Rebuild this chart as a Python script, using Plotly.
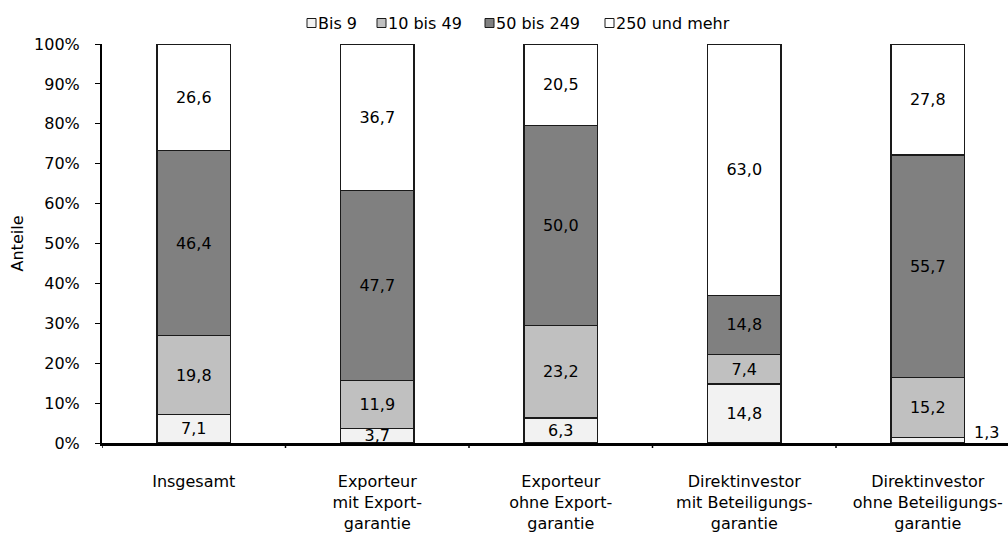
import plotly.graph_objects as go

# Unternehmensgröße nach Beschäftigten, Anteile in Prozent
categories = [
    "Insgesamt",
    "Exporteur<br>mit Export-<br>garantie",
    "Exporteur<br>ohne Export-<br>garantie",
    "Direktinvestor<br>mit Beteiligungs-<br>garantie",
    "Direktinvestor<br>ohne Beteiligungs-<br>garantie",
]
series_names = ["Bis 9", "10 bis 49", "50 bis 249", "250 und mehr"]
bis_9 = [7.1, 3.7, 6.3, 14.8, 1.3]
bis_49 = [19.8, 11.9, 23.2, 7.4, 15.2]
bis_249 = [46.4, 47.7, 50.0, 14.8, 55.7]
ab_250 = [26.6, 36.7, 20.5, 63.0, 27.8]
y_ticks = [0, 10, 20, 30, 40, 50, 60, 70, 80, 90, 100]
y_tick_labels = [f"{v}%" for v in y_ticks]

series_values = [bis_9, bis_49, bis_249, ab_250]
fill_colors = ["#f2f2f2", "#c0c0c0", "#808080", "#ffffff"]

FONT = "DejaVu Sans"
FS = 16
W, H = 1008, 533
ML, MR, MT, MB = 102, 0, 44, 90
PW, PH = W - ML - MR, H - MT - MB

# segments too thin for an inside label get their value written beside the bar
MIN_INSIDE = 2.0

fig = go.Figure()
x_idx = list(range(len(categories)))
for name, vals, color in zip(series_names, series_values, fill_colors):
    texts = [f"{v:.1f}".replace(".", ",") if v >= MIN_INSIDE else "" for v in vals]
    fig.add_trace(go.Bar(
        name=name,
        x=x_idx,
        y=vals,
        width=0.4,
        marker=dict(color=color, line=dict(color="#1a1a1a", width=1.3)),
        text=texts,
        textposition="inside",
        insidetextanchor="middle",
        textangle=0,
        constraintext="none",
        textfont=dict(family=FONT, size=FS, color="#000000"),
        hoverinfo="skip",
        showlegend=False,
    ))

# outside labels for thin bottom segments
for i, v in enumerate(bis_9):
    if v < MIN_INSIDE:
        fig.add_annotation(
            x=i + 0.2, y=v / 2, xref="x", yref="y",
            text=f"{v:.1f}".replace(".", ","), showarrow=False,
            xanchor="left", yanchor="middle", xshift=8, yshift=8,
            font=dict(family=FONT, size=FS, color="#000000"),
        )

# legend row above the plot
def px_x(px):
    return (px - ML) / PW

def px_y(py):
    return (H - MB - py) / PH

legend_x = [307, 377, 485, 605]
legend_cy = 23
for lx, name, color in zip(legend_x, series_names, fill_colors):
    fig.add_shape(
        type="rect", xref="paper", yref="paper",
        x0=px_x(lx), x1=px_x(lx + 9),
        y0=px_y(legend_cy + 4.5), y1=px_y(legend_cy - 4.5),
        fillcolor=color, line=dict(color="#1a1a1a", width=1),
    )
    fig.add_annotation(
        x=px_x(lx + 9), y=px_y(legend_cy), xref="paper", yref="paper",
        text=name, showarrow=False, xanchor="left", yanchor="middle",
        font=dict(family=FONT, size=16, color="#000000"),
    )

fig.update_layout(
    barmode="stack",
    width=W, height=H,
    margin=dict(l=ML, r=MR, t=MT, b=MB, autoexpand=False),
    paper_bgcolor="#ffffff",
    plot_bgcolor="#ffffff",
    font=dict(family=FONT, size=FS, color="#000000"),
    showlegend=False,
)
fig.update_xaxes(
    range=[-0.5, -0.5 + PW / 183.5],
    tickmode="array",
    tickvals=x_idx,
    ticktext=categories,
    showgrid=False,
    zeroline=False,
    showline=True, linecolor="#000000", linewidth=2.5,
    ticks="", ticklabelstandoff=22,
    tickfont=dict(family=FONT, size=FS, color="#000000"),
)
# tick marks on category boundaries
for b in [-0.5, 0.5, 1.5, 2.5, 3.5]:
    fig.add_shape(type="line", xref="x", yref="paper", x0=b, x1=b,
                  y0=0, y1=-5 / PH, line=dict(color="#000000", width=1.5))

fig.update_yaxes(
    range=[0, 100],
    tickmode="array",
    tickvals=y_ticks,
    ticktext=y_tick_labels,
    showgrid=False,
    zeroline=False,
    showline=True, linecolor="#000000", linewidth=2,
    ticks="outside", ticklen=5, tickwidth=1.2, tickcolor="#000000",
    ticklabelstandoff=12,
    tickfont=dict(family=FONT, size=FS, color="#000000"),
    title=dict(text="Anteile", standoff=6, font=dict(family=FONT, size=FS, color="#000000")),
)

fig.write_html("out.html")
